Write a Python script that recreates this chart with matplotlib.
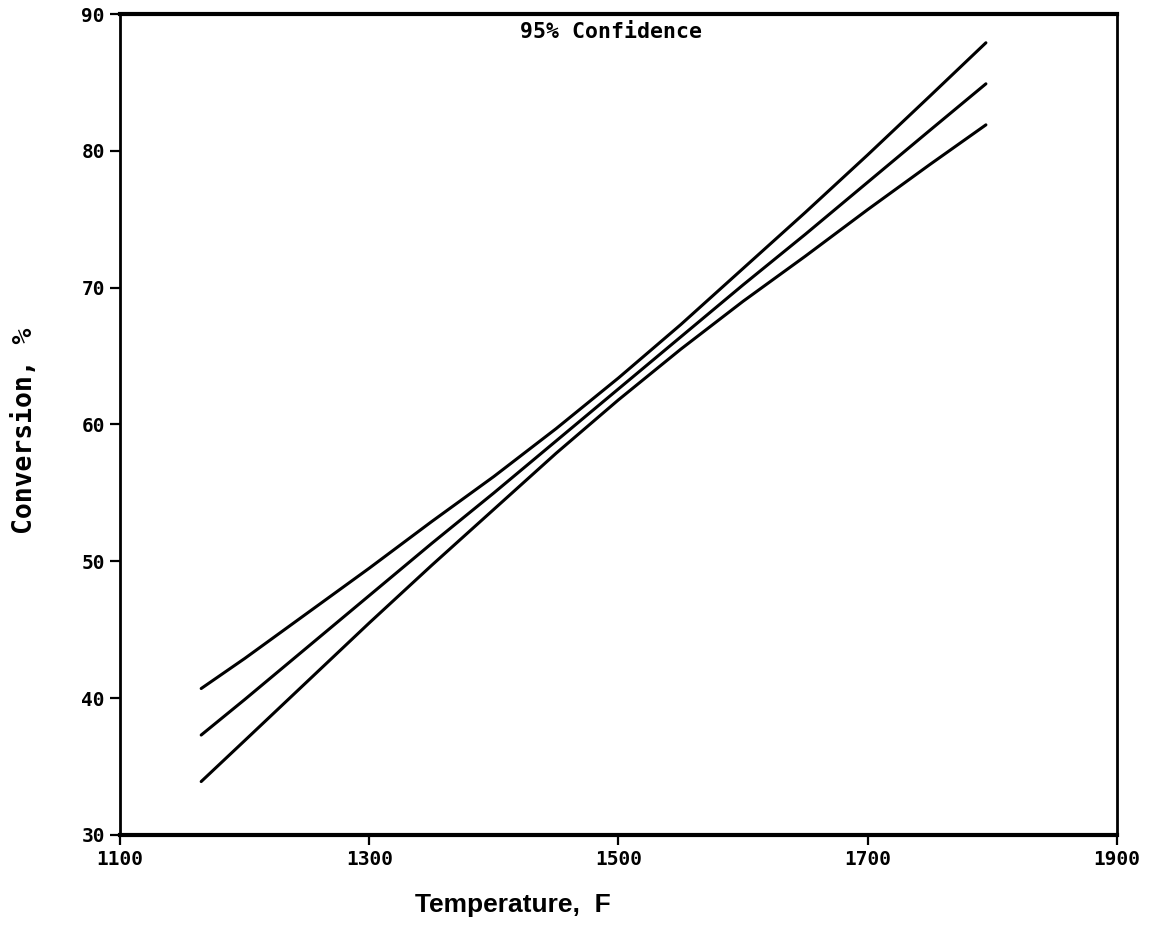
"""Conversion vs temperature with 95% confidence band."""

import matplotlib.pyplot as plt

# temperatures (F)
temperature = [1165, 1200, 1250, 1300, 1350, 1400, 1450, 1500, 1550, 1600, 1650, 1700, 1750, 1795]

# conversion, %
upper = [40.7, 42.9, 46.2, 49.5, 52.9, 56.2, 59.7, 63.4, 67.3, 71.4, 75.5, 79.7, 84.0, 87.9]
center = [37.3, 39.9, 43.7, 47.5, 51.3, 55.0, 58.8, 62.6, 66.4, 70.2, 73.9, 77.7, 81.5, 84.9]
lower = [33.9, 36.9, 41.2, 45.5, 49.7, 53.8, 57.9, 61.8, 65.5, 69.0, 72.3, 75.7, 79.0, 81.9]

x_ticks = [1100, 1300, 1500, 1700, 1900]
y_ticks = [30, 40, 50, 60, 70, 80, 90]

mono = "DejaVu Sans Mono"

fig = plt.figure(figsize=(11.56, 9.36), dpi=100)
ax = fig.add_axes([0.104, 0.108, 0.862, 0.877])

for series in (upper, center, lower):
    ax.plot(temperature, series, color="black", linewidth=2.2, solid_capstyle="round")

ax.set_xlim(1100, 1900)
ax.set_ylim(30, 90)
ax.set_xticks(x_ticks)
ax.set_yticks(y_ticks)
ax.set_xticklabels([str(t) for t in x_ticks], fontfamily=mono, fontweight="bold", fontsize=14)
ax.set_yticklabels([str(t) for t in y_ticks], fontfamily=mono, fontweight="bold", fontsize=14)
ax.tick_params(axis="both", direction="out", length=7, width=1.6, color="black", pad=4)

ax.spines["top"].set_linewidth(3.0)
ax.spines["bottom"].set_linewidth(3.0)
ax.spines["left"].set_linewidth(2.0)
ax.spines["right"].set_linewidth(2.0)

ax.text(1494, 88.7, "95% Confidence", ha="center", va="center",
        fontfamily=mono, fontweight="bold", fontsize=15.5)

fig.text(0.444, 0.033, "Temperature,  F", ha="center", va="center",
         fontfamily="Liberation Sans", fontweight="bold", fontsize=19)
fig.text(0.022, 0.54, "Conversion, %", ha="center", va="center", rotation=90,
         fontfamily=mono, fontweight="bold", fontsize=19)

fig.savefig("out.png", dpi=100)
plt.close(fig)
